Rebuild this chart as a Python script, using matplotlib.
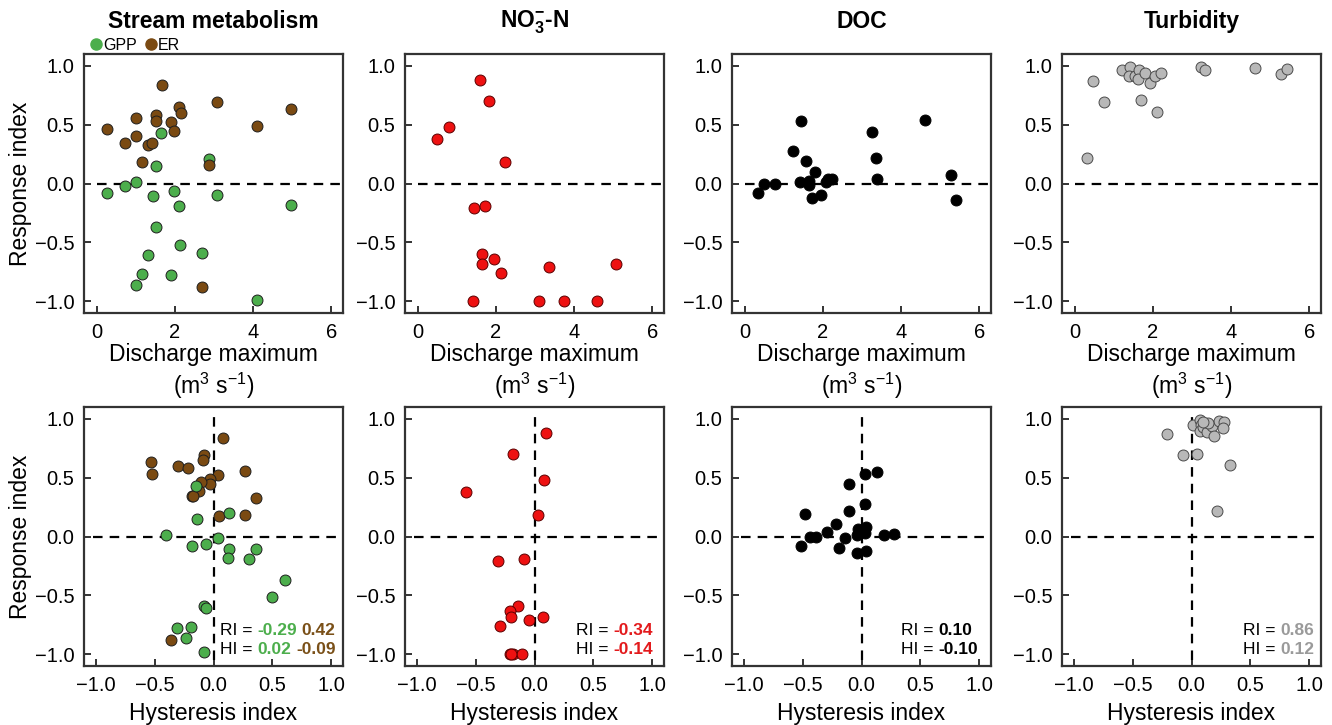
import matplotlib
matplotlib.use("Agg")
import matplotlib.pyplot as plt
from matplotlib.lines import Line2D
from matplotlib.offsetbox import TextArea, HPacker, VPacker, AnchoredOffsetbox

plt.rcParams['font.family'] = ['Liberation Sans', 'DejaVu Sans']
plt.rcParams['mathtext.fontset'] = 'custom'
plt.rcParams['mathtext.rm'] = 'Liberation Sans'
plt.rcParams['mathtext.it'] = 'Liberation Sans:italic'
plt.rcParams['mathtext.bf'] = 'Liberation Sans:bold'

# ---------------- data ----------------
titles = ["Stream metabolism", r"NO$_\mathbf{3}^\mathbf{-}$-N", "DOC", "Turbidity"]

# Stream metabolism: discharge max vs RI
gpp_q = [0.25, 0.73, 1.01, 1.65, 1.52, 1.43, 1.97, 2.10, 1.51, 1.30, 2.14, 1.15, 0.99, 1.89, 2.69, 2.88, 3.07, 4.09, 4.97]
gpp_ri = [-0.08, -0.02, 0.01, 0.43, 0.15, -0.11, -0.06, -0.19, -0.37, -0.61, -0.52, -0.77, -0.86, -0.78, -0.59, 0.21, -0.10, -0.99, -0.18]
er_q = [0.25, 0.73, 1.00, 0.99, 1.16, 1.31, 1.41, 1.51, 1.51, 1.66, 1.90, 1.98, 2.11, 2.15, 2.69, 2.87, 3.07, 4.09, 4.97]
er_ri = [0.46, 0.34, 0.56, 0.40, 0.18, 0.33, 0.34, 0.58, 0.53, 0.84, 0.52, 0.45, 0.65, 0.60, -0.88, 0.16, 0.69, 0.49, 0.63]
# Stream metabolism: HI vs RI
gpp_hi = [-0.15, -0.14, 0.13, -0.40, 0.04, -0.18, -0.06, 0.13, 0.12, 0.30, 0.36, 0.61, 0.50, -0.08, -0.06, -0.31, -0.19, -0.23, -0.08]
gpp_ri2 = [0.43, 0.15, 0.20, 0.01, -0.01, -0.08, -0.06, -0.11, -0.18, -0.19, -0.11, -0.37, -0.51, -0.59, -0.61, -0.78, -0.77, -0.86, -0.98]
er_hi = [0.08, -0.08, -0.09, -0.53, -0.52, -0.30, -0.22, 0.27, 0.04, -0.03, -0.03, -0.11, -0.12, -0.18, -0.17, 0.36, 0.05, 0.27, -0.36]
er_ri2 = [0.84, 0.69, 0.65, 0.63, 0.53, 0.60, 0.58, 0.56, 0.52, 0.49, 0.45, 0.46, 0.39, 0.34, 0.34, 0.33, 0.17, 0.18, -0.88]

# NO3-N
no3_q = [0.49, 0.79, 1.58, 1.81, 2.23, 1.43, 1.72, 1.65, 1.65, 1.95, 2.13, 3.36, 5.07, 1.42, 3.11, 3.73, 4.59]
no3_ri = [0.38, 0.48, 0.88, 0.70, 0.18, -0.21, -0.19, -0.60, -0.68, -0.64, -0.76, -0.71, -0.68, -1.0, -1.0, -1.0, -1.0]
no3_hi = [0.10, -0.18, 0.08, -0.58, 0.03, -0.31, -0.09, -0.14, -0.21, -0.20, -0.05, 0.07, -0.29, -0.21, -0.18, -0.11, -0.20]
no3_ri2 = [0.88, 0.70, 0.48, 0.38, 0.18, -0.21, -0.19, -0.59, -0.63, -0.68, -0.71, -0.68, -0.76, -1.0, -1.0, -1.0, -1.0]

# DOC
doc_q = [0.34, 0.49, 0.78, 1.44, 1.23, 1.57, 1.80, 1.41, 1.65, 1.65, 1.71, 1.95, 2.08, 2.14, 2.24, 3.26, 3.36, 3.37, 4.60, 5.27, 5.41]
doc_ri = [-0.08, 0.00, 0.00, 0.53, 0.28, 0.19, 0.10, 0.01, 0.02, -0.01, -0.12, -0.10, 0.01, 0.04, 0.04, 0.44, 0.22, 0.04, 0.54, 0.07, -0.14]
doc_hi = [-0.51, -0.48, -0.44, -0.39, -0.29, -0.22, -0.14, -0.19, -0.11, -0.11, -0.04, -0.03, -0.04, 0.03, 0.03, 0.04, 0.03, 0.04, 0.13, 0.19, 0.28]
doc_ri2 = [-0.08, 0.19, 0.00, 0.00, 0.04, 0.11, -0.01, -0.10, 0.45, 0.22, 0.01, 0.06, -0.14, 0.53, 0.28, 0.08, 0.03, -0.12, 0.55, 0.01, 0.02]

# Turbidity
turb_q = [0.32, 0.47, 0.75, 1.20, 1.42, 1.39, 1.55, 1.63, 1.62, 1.79, 1.70, 1.93, 2.06, 2.21, 2.10, 3.24, 3.34, 4.60, 5.27, 5.43]
turb_ri = [0.22, 0.87, 0.69, 0.96, 0.99, 0.91, 0.91, 0.96, 0.89, 0.94, 0.71, 0.85, 0.91, 0.94, 0.61, 0.99, 0.96, 0.98, 0.93, 0.97]
turb_hi = [-0.21, -0.07, 0.05, 0.01, 0.07, 0.08, 0.07, 0.10, 0.13, 0.17, 0.19, 0.23, 0.28, 0.27, 0.33, 0.22, 0.14, 0.10]
turb_ri2 = [0.87, 0.69, 0.70, 0.95, 0.99, 0.95, 0.90, 0.93, 0.89, 0.94, 0.85, 0.98, 0.97, 0.92, 0.61, 0.22, 0.96, 0.97]

ri_text = [["-0.29", "0.42"], ["-0.34"], ["0.10"], ["0.86"]]
hi_text = [["0.02", "-0.09"], ["-0.14"], ["-0.10"], ["0.12"]]

# ---------------- style ----------------
GREEN = "#4cae4c"
BROWN = "#7a4a12"
RED = "#ee1111"
BLACK = "#000000"
GRAY = "#b8b8b8"
TXT_GREEN = "#4cae4c"
TXT_BROWN = "#7a5018"
TXT_RED = "#e31a1c"
TXT_GRAY = "#9a9a9a"

fig = plt.figure(figsize=(13.32, 7.25), dpi=100)
W, H = 1332.0, 725.0
lefts = [84, 405, 732, 1062]
aw, ah = 259, 259
tops = [54, 407]

axes = [[None] * 4 for _ in range(2)]
for r in range(2):
    for c in range(4):
        axes[r][c] = fig.add_axes([lefts[c] / W, 1 - (tops[r] + ah) / H, aw / W, ah / H])

dash = (0, (4.3, 3.2))
MS = 62


def style(ax):
    for s in ax.spines.values():
        s.set_linewidth(1.6)
        s.set_color("#333333")
    ax.tick_params(direction="in", length=5, width=1.4, color="#333333",
                   labelsize=14.5, pad=7)
    ax.set_ylim(-1.1, 1.1)
    ax.set_yticks([-1.0, -0.5, 0.0, 0.5, 1.0])
    ax.set_yticklabels(["\u22121.0", "\u22120.5", "0.0", "0.5", "1.0"])


def scat(ax, x, y, fc, ec):
    ax.scatter(x, y, s=MS, c=fc, edgecolors=ec, linewidths=0.7, zorder=3, clip_on=False)


top_sets = [
    [(gpp_q, gpp_ri, GREEN, "#1e1e1e"), (er_q, er_ri, BROWN, "#1e1e1e")],
    [(no3_q, no3_ri, RED, "#5a0000")],
    [(doc_q, doc_ri, BLACK, BLACK)],
    [(turb_q, turb_ri, GRAY, "#4a4a4a")],
]
bot_sets = [
    [(er_hi, er_ri2, BROWN, "#1e1e1e"), (gpp_hi, gpp_ri2, GREEN, "#1e1e1e")],
    [(no3_hi, no3_ri2, RED, "#5a0000")],
    [(doc_hi, doc_ri2, BLACK, BLACK)],
    [(turb_hi, turb_ri2, GRAY, "#4a4a4a")],
]
ann_cols = [[TXT_GREEN, TXT_BROWN], [TXT_RED], [BLACK], [TXT_GRAY]]
ann_x = [0.972, 0.958, 0.948, 0.975]
AFS = 12.5

for c in range(4):
    ax = axes[0][c]
    style(ax)
    ax.set_xlim(-0.33, 6.3)
    ax.set_xticks([0, 2, 4, 6])
    ax.axhline(0, xmin=0.33 / 6.63, xmax=1.0, color="black", lw=1.6, ls=dash, zorder=2)
    for x, y, fc, ec in top_sets[c]:
        scat(ax, x, y, fc, ec)
    ax.set_xlabel("Discharge maximum\n(m$^3$ s$^{-1}$)", fontsize=16.5, labelpad=1, linespacing=1.22)
    ax.set_title(titles[c], fontsize=16.5, fontweight="bold", pad=19)

    ax2 = axes[1][c]
    style(ax2)
    ax2.set_xlim(-1.1, 1.1)
    ax2.set_xticks([-1.0, -0.5, 0.0, 0.5, 1.0])
    ax2.set_xticklabels(["\u22121.0", "\u22120.5", "0.0", "0.5", "1.0"])
    ax2.axhline(0, xmin=0.035, xmax=1.0, color="black", lw=1.6, ls=dash, zorder=2)
    ax2.axvline(0, ymin=0.025, ymax=0.975, color="black", lw=1.6, ls=dash, zorder=2)
    for x, y, fc, ec in bot_sets[c]:
        scat(ax2, x, y, fc, ec)
    ax2.set_xlabel("Hysteresis index", fontsize=16.5, labelpad=5)

    # annotation RI / HI
    tp_norm = dict(fontsize=AFS, color="black")
    row1 = [TextArea("RI =", textprops=tp_norm)]
    for t, col in zip(ri_text[c], ann_cols[c]):
        row1.append(TextArea(t, textprops=dict(fontsize=AFS, color=col, fontweight="bold")))
    row2 = [TextArea("HI =", textprops=tp_norm)]
    for t, col in zip(hi_text[c], ann_cols[c]):
        row2.append(TextArea(t, textprops=dict(fontsize=AFS, color=col, fontweight="bold")))
    vp = VPacker(children=[HPacker(children=row1, sep=3.5, pad=0, align="baseline"),
                           HPacker(children=row2, sep=3.5, pad=0, align="baseline")],
                 sep=2.5, pad=0, align="left")
    ab = AnchoredOffsetbox(loc="lower right", child=vp, pad=0, borderpad=0, frameon=False,
                           bbox_to_anchor=(ann_x[c], 0.035), bbox_transform=ax2.transAxes)
    ax2.add_artist(ab)

for r in range(2):
    axes[r][0].set_ylabel("Response index", fontsize=16.5, labelpad=2)

# legend for stream metabolism
handles = [Line2D([], [], marker="o", ls="none", color=GREEN, markersize=8),
           Line2D([], [], marker="o", ls="none", color=BROWN, markersize=8)]
axes[0][0].legend(handles, ["GPP", "ER"], loc="lower left", bbox_to_anchor=(0.02, 1.005),
                  frameon=False, ncol=2, fontsize=11.5, handlelength=0.8, handletextpad=0.05,
                  columnspacing=0.5, borderpad=0, borderaxespad=0)

fig.savefig("out.png", dpi=100)
